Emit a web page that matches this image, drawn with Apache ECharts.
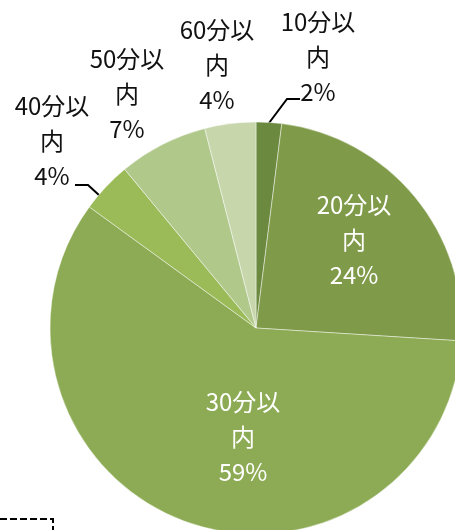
<!DOCTYPE html>
<html>
<head>
<meta charset="utf-8">
<script src="https://cdn.jsdelivr.net/npm/echarts@6/dist/echarts.min.js"></script>
<style>
html,body{margin:0;padding:0;background:#fff;}
#pie{width:455px;height:530px;}
</style>
</head>
<body>
<div id="pie"></div>
<script>
// 所要時間の割合
const categories = ["10分以内","20分以内","30分以内","40分以内","50分以内","60分以内"];
const shares = [2,24,59,4,7,4];

// slice colours (dark -> light)
const colors = ["#6b8a3f","#7f9a48","#8cab54","#9bbb59","#b1c88b","#c7d6ab"];

// label placement: [x, y, inside?]
const labelPos = [
  [318, 57, false],
  [354, 240, true],
  [243, 437, true],
  [52, 141, false],
  [127, 94, false],
  [217, 65, false]
];
// leader lines (only two slices have one)
const leaders = {
  0: [[269,123],[287,99],[300,99]],
  3: [[100,196],[88,185],[75,185]]
};

const chart = echarts.init(document.getElementById("pie"));

const pieData = categories.map((name,i)=>({
  name:name,
  value:shares[i],
  itemStyle:{color:colors[i]},
  label:{
    color: labelPos[i][2] ? "#ffffff" : "#111111"
  },
  labelLine:{show: !!leaders[i]}
}));

chart.setOption({
  backgroundColor:"#ffffff",
  animation:false,
  series:[{
    type:"pie",
    center:[256,328],
    radius:[0,206],
    startAngle:90,
    clockwise:true,
    avoidLabelOverlap:false,
    itemStyle:{
      borderColor:"rgba(255,255,255,0.45)",
      borderWidth:1
    },
    label:{
      show:true,
      position:"outside",
      fontFamily:"Noto Sans CJK JP",
      fontSize:24,
      lineHeight:35,
      align:"center",
      formatter:function(p){
        const n = p.name;
        return n.slice(0,-1) + "\n" + n.slice(-1) + "\n" + Math.round(p.percent) + "%";
      }
    },
    labelLine:{
      lineStyle:{color:"#000",width:2}
    },
    labelLayout:function(params){
      const pos = labelPos[params.dataIndex];
      const out = {
        x:pos[0],
        y:pos[1],
        align:"center",
        verticalAlign:"middle"
      };
      if (leaders[params.dataIndex]) out.labelLinePoints = leaders[params.dataIndex];
      return out;
    },
    data:pieData
  }],
  graphic:[{
    type:"polyline",
    shape:{points:[[0,519],[53,519],[53,530]]},
    style:{stroke:"#000",lineWidth:2,lineDash:[7,3],fill:null}
  }]
});
</script>
</body>
</html>
